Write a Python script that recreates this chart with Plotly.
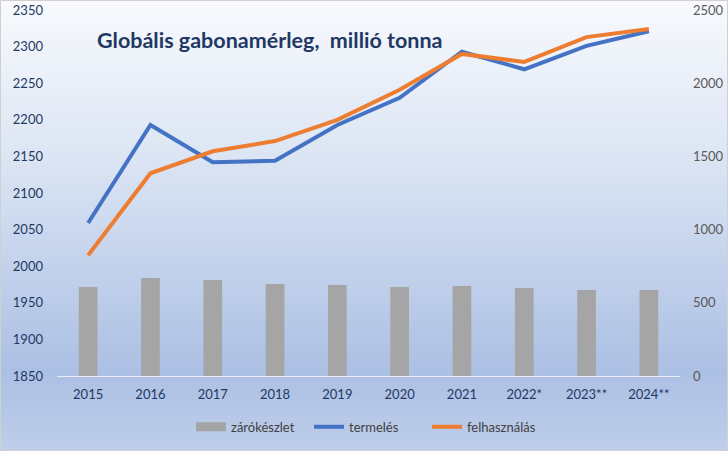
import plotly.graph_objects as go

categories = ["2015", "2016", "2017", "2018", "2019", "2020", "2021", "2022*", "2023**", "2024**"]
zarokeszlet = [608, 669, 656, 628, 622, 608, 615, 601, 587, 587]
termeles = [2059, 2193, 2142, 2144, 2193, 2230, 2293, 2269, 2301, 2321]
felhasznalas = [2015, 2127, 2157, 2171, 2200, 2241, 2290, 2279, 2313, 2324]

W, H = 728, 451
ML, MR, MT, MB = 57, 48, 10, 75
PW, PH = W - ML - MR, H - MT - MB

fig = go.Figure()
fig.add_trace(go.Bar(x=categories, y=zarokeszlet, name="zárókészlet", showlegend=False,
                     marker=dict(color="#a5a5a5", line=dict(width=0)), width=0.3, yaxis="y"))
# legend swatch for the bar series (wide gray rectangle like the original)
fig.add_trace(go.Scatter(x=[categories[0]], y=[None], name="zárókészlet", mode="lines",
                         line=dict(color="#a5a5a5", width=9), yaxis="y"))
fig.add_trace(go.Scatter(x=categories, y=termeles, name="termelés", mode="lines",
                         line=dict(color="#4472c4", width=4), yaxis="y2"))
fig.add_trace(go.Scatter(x=categories, y=felhasznalas, name="felhasználás", mode="lines",
                         line=dict(color="#ed7d31", width=4), yaxis="y2"))

# background gradient strips
def lerp(c1, c2, t):
    return tuple(round(a + (b - a) * t) for a, b in zip(c1, c2))

stops = [(0, (248, 250, 253)), (150, (221, 230, 244)), (370, (172, 192, 228)), (451, (190, 206, 234))]
def col_at(py):
    for (p0, c0), (p1, c1) in zip(stops[:-1], stops[1:]):
        if p0 <= py <= p1:
            return lerp(c0, c1, (py - p0) / (p1 - p0))
    return stops[-1][1]

shapes = []
step = 4
for py in range(0, H, step):
    c = col_at(py + step / 2)
    shapes.append(dict(type="rect", xref="paper", yref="paper", layer="below",
                       x0=(0 - ML) / PW, x1=(W - ML) / PW,
                       y0=(H - MB - (py + step)) / PH, y1=(H - MB - py) / PH,
                       line=dict(width=0), fillcolor="rgb(%d,%d,%d)" % c))
shapes.append(dict(type="rect", xref="paper", yref="paper", layer="above",
                   x0=(0.5 - ML) / PW, x1=(W - 0.5 - ML) / PW,
                   y0=(H - MB - (H - 0.5)) / PH, y1=(H - MB - 0.5) / PH,
                   line=dict(width=1, color="#d0d0d0"), fillcolor="rgba(0,0,0,0)"))

fig.update_layout(
    width=W, height=H,
    margin=dict(l=ML, r=MR, t=MT, b=MB, autoexpand=False),
    paper_bgcolor="#dfe7f4", plot_bgcolor="rgba(0,0,0,0)",
    font=dict(family="Lato", size=13, color="#1f3864"),
    showlegend=True,
    legend=dict(orientation="h", x=(191 - ML) / PW, xanchor="left", y=-0.098, yanchor="top",
                font=dict(size=13, color="#404040"), bgcolor="rgba(0,0,0,0)", traceorder="normal",
                itemwidth=30, entrywidth=73, entrywidthmode="pixels"),
    xaxis=dict(showgrid=False, showline=True, linecolor="#e8ecf4", linewidth=1,
               tickfont=dict(color="#1f3864", size=13), ticks="", ticklabelstandoff=6,
               automargin=False),
    yaxis=dict(side="right", range=[0, 2500], dtick=500, showgrid=False, zeroline=False,
               tickfont=dict(color="#595959", size=13), ticklabelstandoff=12, automargin=False),
    yaxis2=dict(side="left", overlaying="y", range=[1850, 2350], dtick=50, showgrid=False,
                zeroline=False, tickfont=dict(color="#1f3864", size=13), ticklabelstandoff=13,
                automargin=False),
    shapes=shapes,
    annotations=[dict(text="<b>Globális gabonamérleg,  millió tonna</b>", xref="paper", yref="paper",
                      x=(95 - ML) / PW, y=(H - MB - 40) / PH, xanchor="left", yanchor="middle",
                      showarrow=False, font=dict(size=21.5, color="#1f3864", family="Lato"))],
    bargap=0.7,
)
fig.write_html("out.html")
